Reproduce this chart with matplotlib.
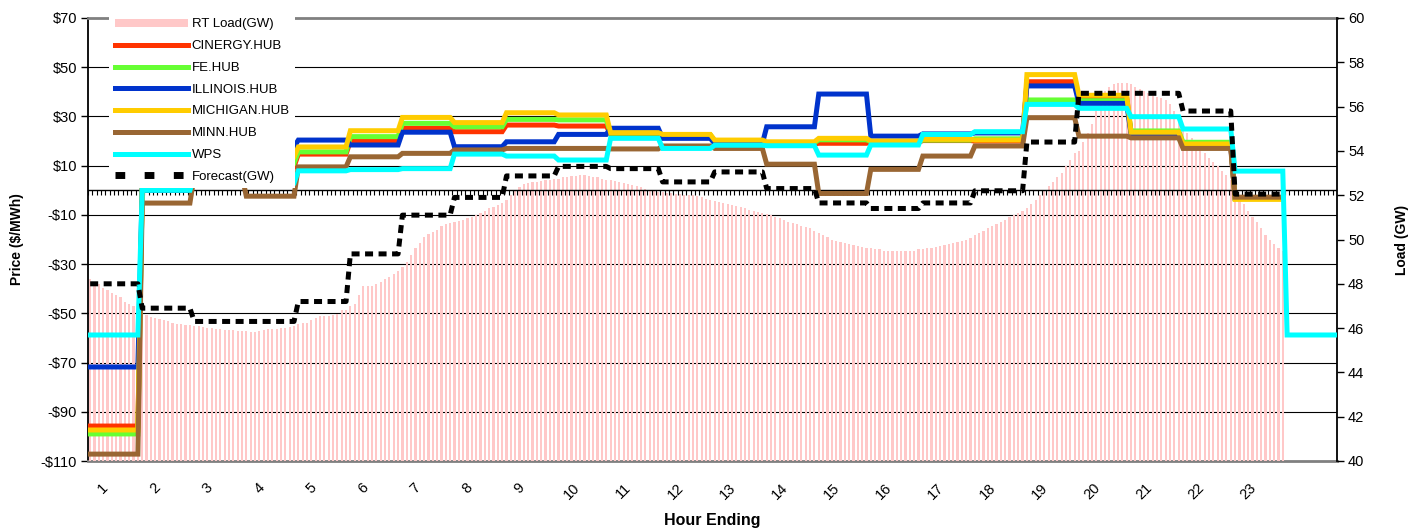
import numpy as np
import matplotlib.pyplot as plt
from matplotlib.patches import Patch
from matplotlib.lines import Line2D

plt.rcParams['font.family'] = ['Liberation Sans', 'DejaVu Sans']

# hour ending labels (5-minute intervals, 12 per hour)
hours = [str(h) for h in range(1, 24)]

# real-time load, GW, one value per 5-minute interval (hours 1-23)
rt_load = [
    48.2, 48.1, 48.0, 47.8, 47.7, 47.6, 47.5, 47.4, 47.2, 47.1, 47.0, 46.95,
    46.7, 46.6, 46.5, 46.45, 46.4, 46.35, 46.3, 46.25, 46.2, 46.2, 46.15, 46.15,
    46.1, 46.1, 46.05, 46.0, 46.0, 45.95, 45.95, 45.9, 45.9, 45.9, 45.85, 45.85,
    45.85, 45.82, 45.82, 45.88, 45.92, 45.95, 45.97, 45.98, 46.0, 46.02, 46.05, 46.1,
    46.2, 46.22, 46.25, 46.35, 46.45, 46.55, 46.55, 46.55, 46.6, 46.65, 46.8, 46.82,
    47.0, 47.1, 47.5, 47.9, 47.9, 47.9, 48.0, 48.1, 48.2, 48.3, 48.45, 48.6,
    48.75, 49.0, 49.3, 49.6, 49.85, 50.1, 50.25, 50.35, 50.45, 50.6, 50.7, 50.75,
    50.8, 50.85, 50.9, 50.95, 51.0, 51.1, 51.2, 51.3, 51.4, 51.45, 51.55, 51.65,
    51.8, 52.0, 52.2, 52.35, 52.5, 52.55, 52.6, 52.6, 52.65, 52.7, 52.7, 52.75,
    52.75, 52.8, 52.8, 52.85, 52.85, 52.9, 52.9, 52.85, 52.8, 52.8, 52.75, 52.7,
    52.7, 52.65, 52.6, 52.55, 52.5, 52.45, 52.4, 52.35, 52.3, 52.25, 52.2, 52.15,
    52.15, 52.1, 52.1, 52.05, 52.05, 52.0, 52.0, 52.0, 51.95, 51.9, 51.85, 51.8,
    51.75, 51.7, 51.65, 51.6, 51.55, 51.5, 51.45, 51.4, 51.35, 51.3, 51.25, 51.2,
    51.15, 51.1, 51.0, 50.95, 50.9, 50.8, 50.75, 50.7, 50.6, 50.55, 50.5, 50.4,
    50.3, 50.2, 50.1, 50.0, 49.95, 49.9, 49.85, 49.8, 49.75, 49.7, 49.65, 49.6,
    49.6, 49.55, 49.55, 49.5, 49.5, 49.5, 49.5, 49.5, 49.5, 49.5, 49.5, 49.55,
    49.55, 49.6, 49.6, 49.65, 49.7, 49.75, 49.8, 49.85, 49.9, 49.95, 50.0, 50.05,
    50.2, 50.3, 50.4, 50.5, 50.6, 50.7, 50.8, 50.9, 51.0, 51.1, 51.2, 51.3,
    51.4, 51.6, 51.8, 52.0, 52.2, 52.4, 52.6, 52.8, 53.0, 53.3, 53.6, 53.9,
    54.0, 54.4, 54.8, 55.2, 55.8, 56.3, 56.7, 56.9, 57.0, 57.05, 57.05, 57.05,
    57.0, 56.9, 56.8, 56.7, 56.6, 56.5, 56.45, 56.4, 56.3, 56.1, 55.8, 55.3,
    55.0, 54.8, 54.6, 54.3, 54.1, 53.9, 53.7, 53.5, 53.3, 53.1, 52.9, 52.7,
    52.4, 52.0, 51.6, 51.3, 51.0, 50.8, 50.5, 50.2, 50.0, 49.8, 49.6, 49.5,
]

# hourly load forecast, GW
forecast = [48.0, 46.9, 46.3, 46.3, 47.2, 49.35, 51.1, 51.9, 52.87, 53.3, 53.2, 52.6,
            53.05, 52.3, 51.65, 51.4, 51.65, 52.2, 54.4, 56.6, 56.6, 55.8, 52.05]

# hourly prices, $/MWh
cinergy = [-95.8, 0.0, 10.0, 9.5, 14.7, 20.0, 25.2, 23.8, 26.5, 26.1, 23.0, 22.3,
           19.8, 18.8, 19.1, 19.5, 20.2, 20.0, 44.1, 38.0, 23.3, 18.5, -3.3]
fe_hub = [-99.0, 0.0, 10.0, 11.0, 15.6, 21.8, 27.2, 25.8, 28.8, 28.6, 23.2, 22.5,
          20.0, 19.3, 20.5, 19.8, 20.4, 20.9, 36.7, 36.4, 24.1, 19.5, -3.4]
illinois = [-71.8, 0.0, 14.0, 17.6, 20.4, 18.4, 23.6, 17.7, 19.7, 22.7, 25.2, 21.1,
            19.0, 25.8, 39.1, 22.0, 22.9, 23.3, 42.4, 35.3, 23.0, 18.0, -3.1]
michigan = [-97.4, 0.3, 12.0, 13.5, 17.6, 24.2, 29.6, 27.5, 31.5, 30.6, 23.4, 22.7,
            20.4, 19.7, 21.1, 20.0, 20.7, 20.4, 47.0, 38.6, 23.6, 18.8, -3.7]
minn = [-107.2, -5.2, 6.0, -2.4, 9.5, 13.6, 15.0, 16.4, 17.0, 17.0, 16.8, 18.0,
        17.0, 10.6, -1.3, 8.5, 13.9, 18.0, 29.5, 22.0, 21.3, 17.0, -2.8]
wps = [-58.8, 0.0, 6.0, 2.9, 7.9, 8.4, 8.8, 14.7, 13.9, 12.3, 21.1, 17.0,
       18.3, 18.1, 14.3, 18.4, 22.7, 23.8, 34.9, 33.3, 29.9, 24.9, 7.8, -58.8]

price_ticks = [-110, -90, -70, -50, -30, -10, 10, 30, 50, 70]
price_labels = ['-$110', '-$90', '-$70', '-$50', '-$30', '-$10', '$10', '$30', '$50', '$70']
load_ticks = list(range(40, 61, 2))

hubs = [
    ('CINERGY.HUB', cinergy, '#FF3300'),
    ('FE.HUB', fe_hub, '#66FF33'),
    ('ILLINOIS.HUB', illinois, '#0033CC'),
    ('MICHIGAN.HUB', michigan, '#FFCC00'),
    ('MINN.HUB', minn, '#996633'),
    ('WPS', wps, '#00FFFF'),
]

n_cat = 24 * 12
pink = '#FFC8C8'

fig = plt.figure(figsize=(14.22, 5.29), dpi=100)
ax = fig.add_axes([88 / 1422, 1 - 461 / 529, (1337 - 88) / 1422, (461 - 18) / 529])
ax.set_xlim(-0.5, n_cat - 0.5)
ax.set_ylim(-110, 70)

# price gridlines (behind the load bars)
for t in price_ticks[1:-1]:
    ax.axhline(t, color='black', lw=0.8, zorder=0)
ax.spines['top'].set_color('#808080')
ax.spines['top'].set_linewidth(2)
ax.spines['bottom'].set_color('#808080')
ax.spines['bottom'].set_linewidth(2)
ax.spines['right'].set_visible(False)
ax.spines['left'].set_linewidth(1.3)
ax.set_yticks(price_ticks)
ax.set_yticklabels(price_labels)
ax.tick_params(axis='y', direction='out', length=5, width=1, labelsize=10.5, pad=3)
ax.set_xticks(np.arange(23) * 12 + 3)
ax.set_xticklabels(hours, rotation=45)
ax.tick_params(axis='x', length=0, pad=14, labelsize=10.5)
ax.set_ylabel('Price ($/MWh)', fontweight='bold', fontsize=10, labelpad=12)
ax.set_xlabel('Hour Ending', fontweight='bold', fontsize=11.5, labelpad=8)

# load bars on the right axis
axl = ax.twinx()
axl.bar(np.arange(len(rt_load)), rt_load, width=0.5, color=pink, linewidth=0)
axl.set_ylim(40, 60)
axl.set_yticks(load_ticks)
for s in ['top', 'bottom', 'left']:
    axl.spines[s].set_visible(False)
axl.spines['right'].set_linewidth(1.3)
axl.tick_params(axis='y', direction='out', length=5, width=1, labelsize=10.5, pad=3)
axl.set_ylabel('Load (GW)', fontweight='bold', fontsize=10, labelpad=22)

# price lines
axp = ax.twinx()
axp.set_ylim(-110, 70)
axp.yaxis.set_visible(False)
for s in axp.spines.values():
    s.set_visible(False)
axp.axhline(0, color='black', lw=1)
axp.vlines(np.arange(n_cat + 1) - 0.5, -1.8, 0, colors='black', lw=0.8)
handles = [Patch(facecolor=pink, edgecolor='none')]
labels = ['RT Load(GW)']
for name, vals, col in hubs:
    y = np.repeat(vals, 12)
    axp.plot(np.arange(len(y)), y, color=col, lw=3.6, solid_joinstyle='miter')
    handles.append(Line2D([], [], color=col, lw=3.6))
    labels.append(name)

# load forecast on top
axf = ax.twinx()
axf.set_ylim(40, 60)
axf.yaxis.set_visible(False)
for s in axf.spines.values():
    s.set_visible(False)
fc = np.repeat(forecast, 12)
axf.plot(np.arange(len(fc)), fc, color='black', lw=3.6, dashes=(1.6, 1.1))
handles.append(Line2D([], [], color='black', lw=5, dashes=(1.4, 2.8)))
labels.append('Forecast(GW)')

leg = axf.legend(handles, labels, loc='upper left', bbox_to_anchor=(0.017, 1.011),
                 borderaxespad=0, fontsize=9.5, handlelength=5.6, handletextpad=0.25,
                 labelspacing=0.74, frameon=True, fancybox=False, framealpha=1,
                 facecolor='white', edgecolor='none', borderpad=0.4, handleheight=0.6)

fig.savefig('out.png', dpi=100)
